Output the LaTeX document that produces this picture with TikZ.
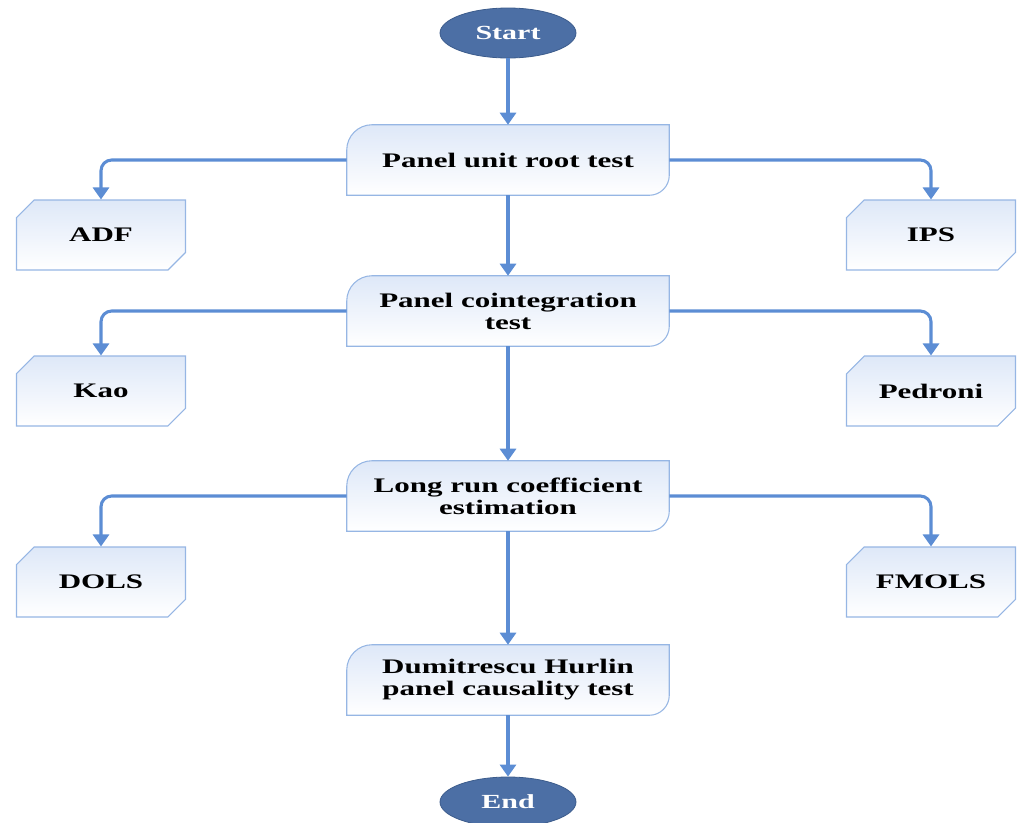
\documentclass[tikz,border=0pt]{standalone}
\usepackage{fontspec}
\setmainfont{Liberation Serif}[FakeStretch=1.5]
\usetikzlibrary{shapes.geometric,shapes.misc,arrows.meta}

\definecolor{termfill}{RGB}{76,111,165}
\definecolor{termedge}{RGB}{60,92,140}
\definecolor{flowline}{RGB}{92,141,212}
\definecolor{boxedge}{RGB}{150,182,228}
\definecolor{boxtop}{RGB}{222,232,248}

\tikzset{
  terminal/.style={ellipse, fill=termfill, draw=termedge, line width=0.6pt,
    minimum width=102pt, minimum height=37.5pt, inner sep=0pt,
    text=white, font=\bfseries\fontsize{15}{16.5}\selectfont},
  stagebox/.style={rectangle, minimum width=241.5pt, minimum height=52.5pt,
    inner sep=0pt, align=center, font=\bfseries\fontsize{15.5}{16.5}\selectfont},
  stageedge/.style={draw=boxedge, line width=0.8pt, top color=boxtop, bottom color=white},
  testbox/.style={chamfered rectangle, chamfered rectangle corners={north west,south east},
    chamfered rectangle xsep=14pt, chamfered rectangle ysep=8pt,
    draw=boxedge, line width=0.8pt, top color=boxtop, bottom color=white,
    minimum width=126.75pt, minimum height=52.5pt, inner sep=0pt,
    font=\bfseries\fontsize{15.5}{16.5}\selectfont},
  flow/.style={draw=flowline, line width=2.3pt, rounded corners=8pt,
    -{Triangle[length=9pt,width=12pt]}},
}

\begin{document}
\begin{tikzpicture}[x=0.75pt,y=0.75pt,yscale=-1,xscale=1]
\useasboundingbox (0,0) rectangle (1020,822);

% stages down the middle
\node [stagebox] (unit)   at (508,160) {};
\node [stagebox] (coint)  at (508,311) {};
\node [stagebox] (coef)   at (508,496) {};
\node [stagebox] (causal) at (508,680) {};

% box outlines: rounded top-left and bottom-right corners
\foreach \n in {unit,coint,coef,causal} {
  \draw [stageedge] ([yshift=19pt]\n.north west) arc [start angle=180, end angle=270, radius=19pt]
    -- (\n.north east) -- ([yshift=-15pt]\n.south east)
    arc [start angle=0, end angle=90, radius=15pt] -- (\n.south west) -- cycle;
}

\node [stagebox] at (unit)   {Panel unit root test};
\node [stagebox] at (coint)  {Panel cointegration\\test};
\node [stagebox] at (coef)   {Long run coefficient\\estimation};
\node [stagebox] at (causal) {Dumitrescu Hurlin\\panel causality test};

% terminals
\node [terminal] (start) at (508,33)  {Start};
\node [terminal] (end)   at (508,802) {End};

% tests on both sides
\node [testbox] (adf)   at (101,235) {ADF};
\node [testbox] (ips)   at (931,235) {IPS};
\node [testbox] (kao)   at (101,391) {Kao};
\node [testbox] (ped)   at (931,391) {Pedroni};
\node [testbox] (dols)  at (101,582) {DOLS};
\node [testbox] (fmols) at (931,582) {FMOLS};

% main flow
\draw [flow] (start) -- (unit);
\draw [flow] (unit) -- (coint);
\draw [flow] (coint) -- (coef);
\draw [flow] (coef) -- (causal);
\draw [flow] (causal) -- (end);

% branches
\draw [flow] (unit.west) -| (adf.north);
\draw [flow] (unit.east) -| (ips.north);
\draw [flow] (coint.west) -| (kao.north);
\draw [flow] (coint.east) -| (ped.north);
\draw [flow] (coef.west) -| (dols.north);
\draw [flow] (coef.east) -| (fmols.north);

\end{tikzpicture}
\end{document}
